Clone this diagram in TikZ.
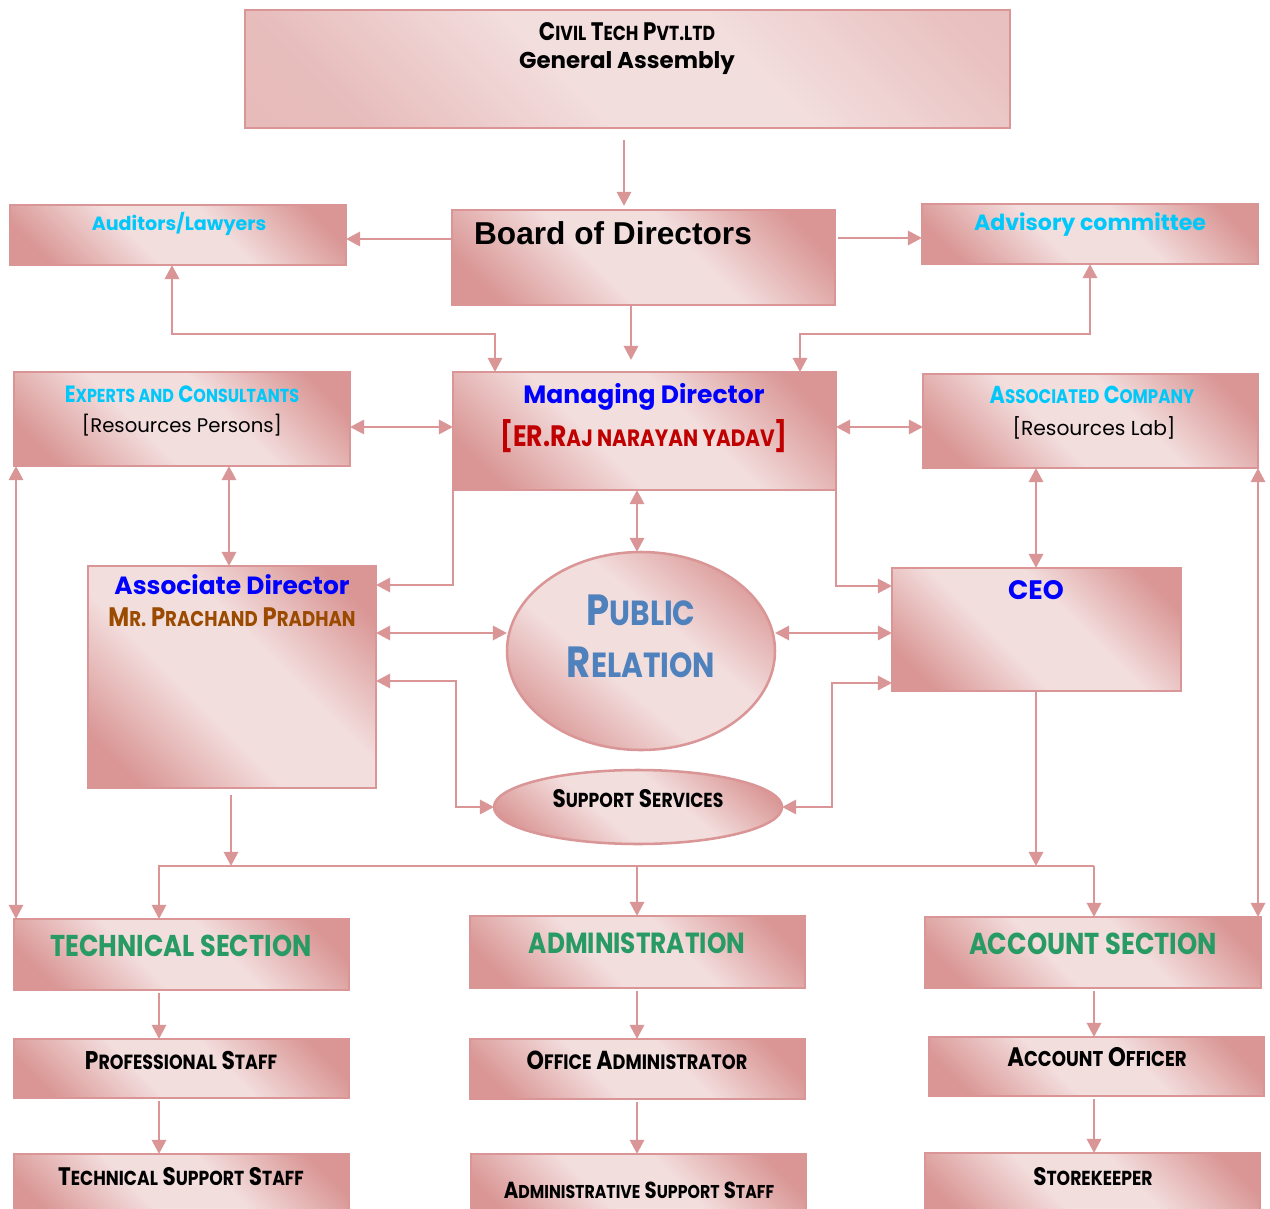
\documentclass[tikz,border=0pt]{standalone}
\usepackage{fontspec}
\setmainfont{Poppins}
\newfontfamily\twcen[FakeStretch=0.85]{Poppins}
\newfontfamily\arialb{Liberation Sans}
\usetikzlibrary{arrows.meta,shapes.geometric}

\definecolor{rosedark}{RGB}{217,150,148}
\definecolor{roselight}{RGB}{243,222,222}
\definecolor{roseline}{RGB}{218,150,150}
\definecolor{skyc}{RGB}{0,200,250}
\definecolor{mdblue}{RGB}{0,0,255}
\definecolor{mdred}{RGB}{192,0,0}
\definecolor{adbrown}{RGB}{155,75,0}
\definecolor{prblue}{RGB}{79,129,189}
\definecolor{secgreen}{RGB}{40,155,100}

\pgfdeclareverticalshading{rosy}{100bp}{color(0bp)=(rosedark); color(22bp)=(rosedark); color(42bp)=(roselight); color(58bp)=(roselight); color(78bp)=(rosedark); color(100bp)=(rosedark)}
\pgfdeclareverticalshading{rosypale}{100bp}{color(0bp)=(rosedark!55!roselight); color(25bp)=(rosedark!45!roselight); color(45bp)=(roselight); color(60bp)=(roselight); color(80bp)=(rosedark!40!roselight); color(100bp)=(rosedark!50!roselight)}

\makeatletter
\newcommand\smc[2]{#1{\fontsize{\fpeval{0.8*\f@size}}{\f@baselineskip}\selectfont\MakeUppercase{#2}}}
\makeatother
\newcommand\fs[1]{\fontsize{#1}{\fpeval{1.2*#1}}\selectfont}

\begin{document}
\begin{tikzpicture}[x=0.025cm,y=-0.025cm,
                    >={Triangle[length=10pt,width=10pt]},
                    box/.style={rectangle,draw=roseline,line width=1.8pt,inner sep=0pt,outer sep=0pt,
                                shading=rosy,shading angle=-45},
                    oval/.style={ellipse,draw=roseline,line width=1.8pt,inner sep=0pt,outer sep=0pt,
                                 shading=rosy,shading angle=-40},
                    link/.style={roseline,line width=2pt,->},
                    duo/.style={link,<->},
                    txt/.style={inner sep=0pt,align=center},
                    cen/.style={txt,font=\bfseries\fs{#1}},
                    tw/.style={txt,font=\twcen\bfseries\fs{#1}}
                    ]
    \useasboundingbox (0,0) rectangle (1270,1209);

    % boxes: name/left/top/right/bottom in px
    \node[box,shading=rosypale,minimum width=765*0.025cm,minimum height=118*0.025cm] (ga) at (627.5,69) {};
    \foreach \n/\xa/\ya/\xb/\yb in {bod/452/210/835/305, aud/10/205/346/265, adv/922/204/1258/264,
                                    md/453/372/836/490, exp/14/372/350/466, aco/923/374/1258/468,
                                    ad/88/566/376/788, ceo/892/568/1181/691,
                                    tech/14/919/349/990, admin/470/916/805/988, acct/925/917/1261/988,
                                    prof/14/1039/349/1098, office/470/1039/805/1099, acof/929/1037/1264/1096,
                                    tss/14/1154/349/1222, adss/471/1154/806/1222, store/925/1153/1260/1222} {
        \node[box,minimum width={(\xb-\xa)*0.025cm},minimum height={(\yb-\ya)*0.025cm}]
            (\n) at ({(\xa+\xb)/2},{(\ya+\yb)/2}) {};
    }
    \node[oval,minimum width=268*0.025cm,minimum height=198*0.025cm] (pr) at (641,651) {};
    \node[oval,minimum width=288*0.025cm,minimum height=74*0.025cm] (ss) at (638,807) {};

    % texts
    \node[tw=18] (gaName) at (627,32) {\smc{C}{ivil} \smc{T}{ech} \smc{P}{vt.ltd}};
    \node[cen=16.3] (gaTitle) at (627,63) {General Assembly};
    \node[txt,font=\arialb\bfseries\fs{22.5}] (bodTitle) at (613,233) {Board of Directors};
    \node[cen=13.6,text=skyc] (audTitle) at (179,224) {Auditors/Lawyers};
    \node[cen=15.7,text=skyc] (advTitle) at (1090,225) {Advisory committee};
    \node[cen=17.8,text=mdblue] (mdTitle) at (644,397) {Managing Director};
    \node[tw=21,text=mdred] (mdName) at (644,436) {[ER.\smc{R}{aj narayan yadav}]};
    \node[tw=16.7,text=skyc] (expTitle) at (182,394) {\smc{E}{xperts and} \smc{C}{onsultants}};
    \node[txt,font=\fs{14}] (expNote) at (182,425) {[Resources Persons]};
    \node[tw=17.4,text=skyc] (acoTitle) at (1092,395) {\smc{A}{ssociated} \smc{C}{ompany}};
    \node[txt,font=\fs{14.4}] (acoNote) at (1094,428) {[Resources Lab]};
    \node[cen=17.7,text=mdblue] (adTitle) at (232,585) {Associate Director};
    \node[tw=19,text=adbrown] (adName) at (232,617) {\smc{M}{r.} \smc{P}{rachand} \smc{P}{radhan}};
    \node[cen=19,text=mdblue] (ceoTitle) at (1036,590) {CEO};
    \node[tw=31,text=prblue] (prTitle) at (641,636) {\smc{P}{ublic}\\\smc{R}{elation}};
    \node[tw=18,text=black] (ssTitle) at (638,799) {\smc{S}{upport} \smc{S}{ervices}};
    \node[tw=21.4,text=secgreen] (techTitle) at (181,946) {TECHNICAL SECTION};
    \node[tw=20.7,text=secgreen] (adminTitle) at (637,943) {ADMINISTRATION};
    \node[tw=21.5,text=secgreen] (acctTitle) at (1093,944) {ACCOUNT SECTION};
    \node[tw=18.2] (profTitle) at (181,1060) {\smc{P}{rofessional} \smc{S}{taff}};
    \node[tw=18] (tssTitle) at (181,1177) {\smc{T}{echnical} \smc{S}{upport} \smc{S}{taff}};
    \node[tw=18.5] (officeTitle) at (637,1060) {\smc{O}{ffice} \smc{A}{dministrator}};
    \node[tw=16.5] (adssTitle) at (639,1190) {\smc{A}{dministrative} \smc{S}{upport} \smc{S}{taff}};
    \node[tw=19] (acofTitle) at (1097,1057) {\smc{A}{ccount} \smc{O}{fficer}};
    \node[tw=18] (storeTitle) at (1093,1177) {\smc{S}{torekeeper}};

    % connectors
    \draw[link,shorten <=0.3cm,shorten >=0.1cm] (ga.south -| 624,0) -- (bod.north -| 624,0);
    \draw[link] (bod.west |- 0,239) -- (aud.east |- 0,239);
    \draw[link,shorten <=0.08cm] (bod.east |- 0,238) -- (adv.west |- 0,238);
    \draw[link,shorten >=0.3cm] (bod.south -| 631,0) -- (md.north -| 631,0);
    \draw[duo] (aud.south -| 172,0) -- (172,334) -| (md.north -| 495,0);
    \draw[duo] (md.north -| 800,0) -- (800,334) -| (adv.south -| 1090,0);
    \draw[duo] (exp.east |- 0,427) -- (md.west |- 0,427);
    \draw[duo] (md.east |- 0,427) -- (aco.west |- 0,427);
    \draw[duo] (exp.south -| 229,0) -- (ad.north -| 229,0);
    \draw[duo] (exp.south -| 16,0) -- (tech.north -| 16,0);
    \draw[duo] (aco.south -| 1258,0) -- (acct.north -| 1258,0);
    \draw[duo] (md.south -| 637,0) -- (pr.north -| 637,0);
    \draw[link] (md.south west) |- (ad.east |- 0,585);
    \draw[link] (md.south east) |- (ceo.west |- 0,586);
    \draw[duo] (ad.east |- 0,633) -- (pr.west |- 0,633);
    \draw[duo] (pr.east |- 0,633) -- (ceo.west |- 0,633);
    \draw[duo] (ad.east |- 0,681) -- (456,681) |- (ss.west);
    \draw[duo] (ceo.west |- 0,683) -- (832,683) |- (ss.east);
    \draw[duo] (aco.south -| 1036,0) -- (ceo.north -| 1036,0);

    \coordinate (busL) at (159,866);
    \coordinate (busR) at (1094,866);
    \draw[link,shorten <=0.18cm] (ad.south -| 231,0) -- (busL -| 231,0);
    \draw[link] (ceo.south -| 1036,0) -- (busL -| 1036,0);
    \draw[link] (busR) -- (busL) -- (tech.north -| busL);
    \draw[link] (busL -| 637,0) -- (admin.north -| 637,0);
    \draw[link] (busR) -- (acct.north -| busR);
    \foreach \a/\b/\x in {tech/prof/159, prof/tss/159, admin/office/637, office/adss/637, acct/acof/1094, acof/store/1094} {
        \draw[link,shorten <=0.08cm] (\a.south -| \x,0) -- (\b.north -| \x,0);
    }
\end{tikzpicture}
\end{document}
